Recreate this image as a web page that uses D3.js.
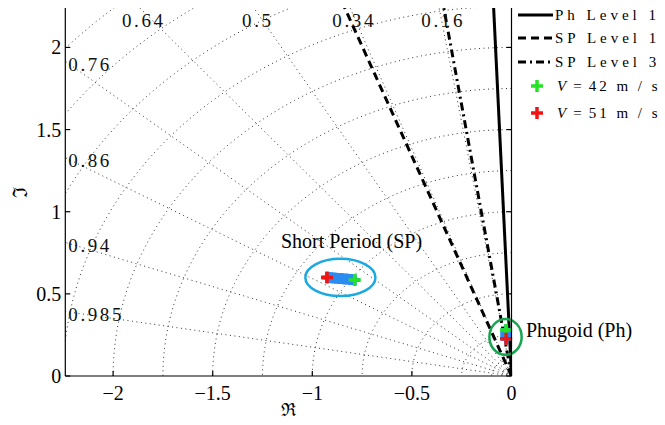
<!DOCTYPE html>
<html>
<head>
<meta charset="utf-8">
<script src="https://cdn.jsdelivr.net/npm/d3@7/dist/d3.min.js"></script>
<style>
  html, body { margin: 0; padding: 0; background: #fff; }
  svg { display: block; }
  .serif { font-family: "Liberation Serif", "Times New Roman", serif; }
</style>
</head>
<body>
<svg id="chart" width="665" height="425"></svg>
<script>
// Axis ticks
const realTicks = [-2, -1.5, -1, -0.5, 0];
const imagTicks = [0, 0.5, 1, 1.5, 2];

// s-plane grid: damping ratios and natural frequencies (rad/s)
const dampingRatios = [0.16, 0.34, 0.5, 0.64, 0.76, 0.86, 0.94, 0.985];
const naturalFreqs = [0.05, 0.1, 0.25, 0.5, 0.75, 1, 1.25, 1.5, 1.75, 2, 2.25, 2.5, 2.75, 3, 3.25];

// Handling-quality boundaries (minimum damping ratio)
const requirementNames = ["Ph Level 1", "SP Level 1", "SP Level 3"];
const requirementZetas = [0.04, 0.35, 0.15];

// Poles across the speed sweep (real, imaginary)
const spSweepReal = [-0.787, -0.800, -0.812, -0.826, -0.840, -0.853, -0.866, -0.880, -0.893, -0.905, -0.916, -0.926];
const spSweepImag = [0.585, 0.587, 0.588, 0.590, 0.591, 0.593, 0.594, 0.595, 0.597, 0.598, 0.599, 0.600];
const phSweepReal = [-0.027, -0.027, -0.027, -0.027, -0.027, -0.027, -0.027, -0.027];
const phSweepImag = [0.280, 0.272, 0.264, 0.256, 0.248, 0.240, 0.232, 0.226];

// End points of the sweep
const speedLabels = ["42", "51"];
const spEndReal = [-0.787, -0.926];
const spEndImag = [0.585, 0.600];
const phEndReal = [-0.027, -0.027];
const phEndImag = [0.280, 0.226];

// Mode groupings: centre (re, im) and half-widths (re, im)
const modeNames = ["Short Period (SP)", "Phugoid (Ph)"];
const modeCentreReal = [-0.859, -0.030];
const modeCentreImag = [0.600, 0.238];
const modeHalfReal = [0.176, 0.081];
const modeHalfImag = [0.113, 0.109];

const svg = d3.select("#chart");
const pLeft = 65.3, pRight = 511.5, pTop = 8, pBottom = 376;

const x = d3.scaleLinear().domain([-2.24, 0]).range([pLeft, pRight]);
const y = d3.scaleLinear().domain([0, 2.24]).range([pBottom, pTop]);

svg.append("defs").append("clipPath").attr("id", "plotArea")
  .append("rect").attr("x", pLeft).attr("y", pTop)
  .attr("width", pRight - pLeft).attr("height", pBottom - pTop);

const plot = svg.append("g").attr("clip-path", "url(#plotArea)");

// Natural frequency arcs
const arc = r => d3.range(0, 91).map(k => {
  const a = Math.PI / 2 + k * Math.PI / 180;
  return [r * Math.cos(a), r * Math.sin(a)];
});
const line = d3.line().x(d => x(d[0])).y(d => y(d[1]));

plot.selectAll(".wn").data(naturalFreqs).enter().append("path")
  .attr("d", r => line(arc(r)))
  .attr("fill", "none").attr("stroke", "#333").attr("stroke-width", 1)
  .attr("stroke-dasharray", "1,3.5");

// Constant damping rays
const rayEnd = z => [-4 * z, 4 * Math.sqrt(1 - z * z)];
plot.selectAll(".zeta").data(dampingRatios).enter().append("path")
  .attr("d", z => line([[0, 0], rayEnd(z)]))
  .attr("fill", "none").attr("stroke", "#333").attr("stroke-width", 1)
  .attr("stroke-dasharray", "1,3.5");

// Damping labels where each ray leaves the axes
const xMin = x.domain()[0], yMax = y.domain()[1];
dampingRatios.forEach(z => {
  const slope = Math.sqrt(1 - z * z) / z;
  const reAtTop = -yMax / slope;
  const g = svg.append("text").attr("class", "serif")
    .attr("font-size", 19).attr("letter-spacing", 2.6).attr("fill", "#111")
    .text(String(z));
  if (reAtTop >= xMin) {
    g.attr("x", x(reAtTop) + 4).attr("y", pTop + 19).attr("text-anchor", "middle");
  } else {
    const imAtLeft = -xMin * slope;
    g.attr("x", pLeft + 3).attr("y", y(imAtLeft) + 3).attr("dy", "0.35em");
  }
});

// Requirement boundary lines
const reqStyles = [null, "8,5", "8,4,2,4"];
requirementZetas.forEach((z, i) => {
  plot.append("path")
    .attr("d", line([[0, 0], rayEnd(z)]))
    .attr("fill", "none").attr("stroke", "#000").attr("stroke-width", 3)
    .attr("stroke-dasharray", reqStyles[i]);
});

// Mode ellipses
const modeColours = ["#1ba9e1", "#17a550"];
modeNames.forEach((name, i) => {
  const cx = x(modeCentreReal[i]), cy = y(modeCentreImag[i]);
  svg.append("ellipse")
    .attr("cx", cx).attr("cy", cy)
    .attr("rx", x(modeCentreReal[i] + modeHalfReal[i]) - cx)
    .attr("ry", cy - y(modeCentreImag[i] + modeHalfImag[i]))
    .attr("fill", "none").attr("stroke", modeColours[i]).attr("stroke-width", 2.5);
});

// Plus-shaped pole markers
function plus(sel, px, py, colour, size, w) {
  const h = size / 2;
  sel.append("path")
    .attr("d", `M${px - h},${py}H${px + h}M${px},${py - h}V${py + h}`)
    .attr("stroke", colour).attr("stroke-width", w).attr("fill", "none");
}
const poles = svg.append("g");
spSweepReal.forEach((re, i) => plus(poles, x(re), y(spSweepImag[i]), "#2a8cf0", 11, 4));
phSweepReal.forEach((re, i) => plus(poles, x(re), y(phSweepImag[i]), "#2a8cf0", 11, 4));
const endColours = ["#22e422", "#f01414"];
speedLabels.forEach((v, i) => {
  plus(poles, x(spEndReal[i]), y(spEndImag[i]), endColours[i], 12, 3.5);
  plus(poles, x(phEndReal[i]), y(phEndImag[i]), endColours[i], 12, 3.5);
});

// Mode labels
svg.append("text").attr("class", "serif").attr("font-size", 20)
  .attr("x", 281).attr("y", 241).attr("dy", "0.35em").text(modeNames[0]);
svg.append("text").attr("class", "serif").attr("font-size", 20)
  .attr("x", 526).attr("y", 330).attr("dy", "0.35em").text(modeNames[1]);

// Axes
const axes = svg.append("g").attr("stroke", "#000").attr("stroke-width", 1.2);
axes.append("line").attr("x1", pLeft).attr("x2", pLeft).attr("y1", pTop).attr("y2", pBottom);
axes.append("line").attr("x1", pLeft).attr("x2", pRight).attr("y1", pBottom).attr("y2", pBottom);
axes.append("line").attr("x1", pRight).attr("x2", pRight).attr("y1", pTop).attr("y2", pBottom);
realTicks.forEach(t => axes.append("line").attr("x1", x(t)).attr("x2", x(t))
  .attr("y1", pBottom).attr("y2", pBottom - 5));
imagTicks.forEach(t => {
  axes.append("line").attr("x1", pLeft).attr("x2", pLeft + 5).attr("y1", y(t)).attr("y2", y(t));
  axes.append("line").attr("x1", pRight).attr("x2", pRight - 5).attr("y1", y(t)).attr("y2", y(t));
});

const fmt = t => (t < 0 ? "\u2212" : "") + String(Math.abs(t));
svg.selectAll(".xt").data(realTicks).enter().append("text").attr("class", "serif")
  .attr("font-size", 20).attr("text-anchor", "middle")
  .attr("x", d => x(d)).attr("y", 400).text(fmt);
svg.selectAll(".yt").data(imagTicks).enter().append("text").attr("class", "serif")
  .attr("font-size", 20).attr("text-anchor", "end")
  .attr("x", pLeft - 4).attr("y", d => y(d)).attr("dy", "0.35em").text(fmt);

svg.append("text").attr("font-family", "DejaVu Serif").attr("font-size", 18)
  .attr("text-anchor", "middle").attr("x", 288).attr("y", 416).text("\u211C");
svg.append("text").attr("font-family", "DejaVu Serif").attr("font-size", 20)
  .attr("text-anchor", "middle")
  .attr("transform", "translate(27,192) rotate(-90)").text("\u2111");

// Legend
const legendY = [15, 38, 62, 86, 113];
const legend = svg.append("g");
requirementNames.forEach((name, i) => {
  legend.append("line").attr("x1", 518).attr("x2", 553)
    .attr("y1", legendY[i]).attr("y2", legendY[i])
    .attr("stroke", "#000").attr("stroke-width", 3)
    .attr("stroke-dasharray", reqStyles[i]);
  legend.append("text").attr("class", "serif").attr("font-size", 15)
    .attr("letter-spacing", 4).attr("x", 555).attr("y", legendY[i])
    .attr("dy", "0.35em").text(name);
});
speedLabels.forEach((v, i) => {
  const ly = legendY[3 + i];
  plus(legend, 537, ly, endColours[i], 12, 3.5);
  const t = legend.append("text").attr("class", "serif").attr("font-size", 15)
    .attr("x", 557).attr("y", ly).attr("dy", "0.35em");
  t.append("tspan").attr("font-style", "italic").text("V");
  t.append("tspan").attr("dx", 7).text("=");
  t.append("tspan").attr("dx", 7).attr("letter-spacing", 3).text(v + " m / s");
});
</script>
</body>
</html>
